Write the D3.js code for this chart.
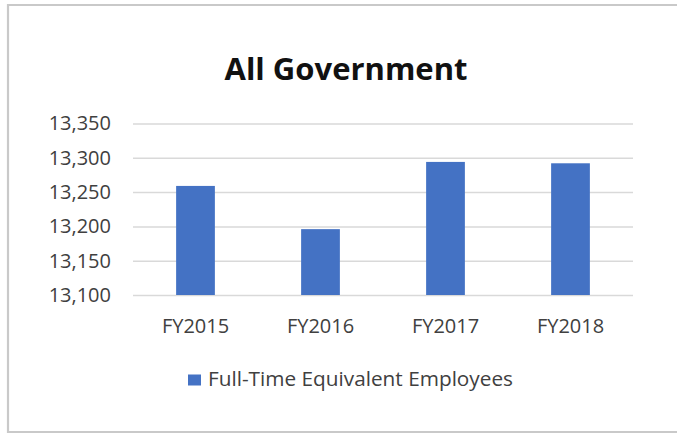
<!DOCTYPE html>
<html>
<head>
<meta charset="utf-8">
<script src="https://cdn.jsdelivr.net/npm/d3@7/dist/d3.min.js"></script>
<style>
  html, body { margin: 0; padding: 0; background: #fff; overflow: hidden; }
  svg { display: block; font-family: "Open Sans", "Noto Sans", sans-serif; }
</style>
</head>
<body>
<svg id="chart" width="677" height="436"></svg>
<script>
const title = "All Government";
const categories = ["FY2015", "FY2016", "FY2017", "FY2018"];
const seriesName = "Full-Time Equivalent Employees";
const values = [13259, 13196, 13294, 13292];
const yTicks = [13100, 13150, 13200, 13250, 13300, 13350];

const svg = d3.select("#chart");
const W = 677, H = 436;
const margin = { left: 133, right: 44, top: 123.5, bottom: 141 };

// frame (top, left, bottom edges)
svg.append("path").attr("d", `M${W + 5},5 H8 V432 H${W + 5}`)
  .attr("fill", "none").attr("stroke", "#c9c9c9").attr("stroke-width", 2.2);

const x = d3.scaleBand().domain(categories)
  .range([margin.left, W - margin.right]).paddingInner(0.69).paddingOuter(0.345);
const y = d3.scaleLinear().domain([13100, 13350]).range([H - margin.bottom, margin.top]);

// gridlines
const grid = d3.axisLeft(y).tickValues(yTicks).tickSize(-(W - margin.left - margin.right)).tickFormat("");
const gg = svg.append("g").attr("transform", `translate(${margin.left},0)`).call(grid);
gg.select(".domain").remove();
gg.selectAll(".tick line").attr("stroke", "#d9d9d9").attr("stroke-width", 1.5);

// y labels
const yAxis = d3.axisLeft(y).tickValues(yTicks).tickSize(0).tickPadding(22).tickFormat(d3.format(","));
const ya = svg.append("g").attr("transform", `translate(${margin.left},0)`).call(yAxis);
ya.select(".domain").remove();
ya.selectAll("text").attr("font-size", 20).attr("fill", "#404040")
  .attr("font-family", "'Open Sans', sans-serif");

// bars
svg.append("g").selectAll("rect").data(values).join("rect")
  .attr("x", (d, i) => x(categories[i]))
  .attr("width", x.bandwidth())
  .attr("y", d => y(d))
  .attr("height", d => y(13100) - y(d))
  .attr("fill", "#4472c4");

// x labels
const xAxis = d3.axisBottom(x).tickSize(0).tickPadding(24);
const xa = svg.append("g").attr("transform", `translate(0,${H - margin.bottom})`).call(xAxis);
xa.select(".domain").remove();
xa.selectAll("text").attr("font-size", 20).attr("fill", "#404040")
  .attr("font-family", "'Open Sans', sans-serif");

// title
svg.append("text").attr("x", 346).attr("y", 79.5).attr("text-anchor", "middle")
  .attr("font-size", 31).attr("font-weight", "bold").attr("fill", "#111")
  .text(title);

// legend
const lg = svg.append("g");
lg.append("rect").attr("x", 188).attr("y", 374.5).attr("width", 13).attr("height", 11).attr("fill", "#4472c4");
lg.append("text").attr("x", 208).attr("y", 386).attr("font-size", 20).attr("fill", "#404040")
  .attr("textLength", 305).attr("lengthAdjust", "spacingAndGlyphs")
  .text(seriesName);
</script>
</body>
</html>
